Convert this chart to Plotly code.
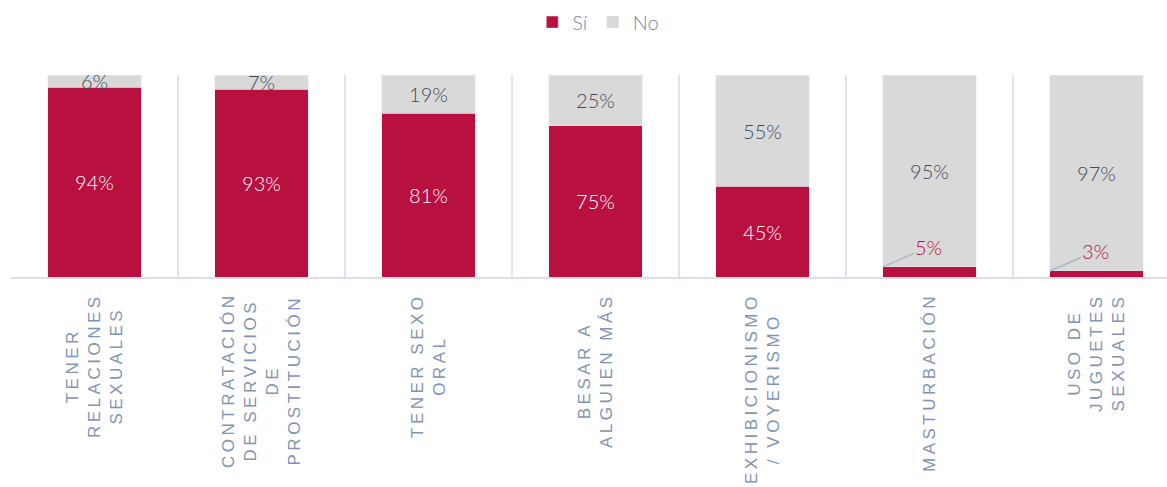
import plotly.graph_objects as go

categories = [
    "TENER<br>RELACIONES<br>SEXUALES",
    "CONTRATACIÓN<br>DE SERVICIOS<br>DE<br>PROSTITUCIÓN",
    "TENER SEXO<br>ORAL",
    "BESAR A<br>ALGUIEN MÁS",
    "EXHIBICIONISMO<br>/ VOYERISMO",
    "MASTURBACIÓN",
    "USO DE<br>JUGUETES<br>SEXUALES",
]
si_values = [94, 93, 81, 75, 45, 5, 3]
no_values = [6, 7, 19, 25, 55, 95, 97]
series_names = ["Sí", "No"]

RED = "#b8103f"
GREY = "#d9d9d9"
LABEL = "#7f94b6"
DARK = "#414b5a"
BAR_W = 0.557
SMALL = 10

idx = list(range(len(categories)))

fig = go.Figure()
fig.add_trace(go.Bar(
    x=idx, y=si_values, name=series_names[0], marker_color=RED, width=BAR_W,
    text=[f"{v}%" if v >= SMALL else "" for v in si_values],
    textposition="inside", insidetextanchor="middle", textangle=0,
    constraintext="none",
    textfont=dict(family="Lato", size=20, color="white", weight=300),
    hoverinfo="skip",
))
fig.add_trace(go.Bar(
    x=idx, y=no_values, name=series_names[1], marker_color=GREY, width=BAR_W,
    text=[f"{v}%" for v in no_values],
    textposition="inside", insidetextanchor="middle", textangle=0,
    constraintext="none",
    textfont=dict(family="Lato", size=20, color=DARK, weight=300),
    hoverinfo="skip",
))

annotations = []
for i, c in enumerate(categories):
    annotations.append(dict(
        x=i, y=0, xref="x", yref="paper", text=c, showarrow=False,
        textangle=-90, align="center", xanchor="center", yanchor="top",
        yshift=-14, font=dict(family="Liberation Sans", size=17, color=LABEL),
    ))
for i, v in enumerate(si_values):
    if v < SMALL:
        annotations.append(dict(
            x=i - BAR_W / 2, y=v, xref="x", yref="y", text=f"{v}%",
            showarrow=True, arrowhead=0, arrowwidth=1.5, arrowcolor="#aab8cc",
            ax=46, ay=-20, standoff=0,
            font=dict(family="Lato", size=20, color=RED, weight=300),
        ))

fig.update_layout(
    barmode="stack",
    width=1167, height=487,
    margin=dict(l=11, r=0, t=75, b=210),
    paper_bgcolor="white", plot_bgcolor="white",
    showlegend=True,
    legend=dict(orientation="h", x=0.508, xanchor="center", y=1.262, yanchor="middle",
                font=dict(family="Lato", size=20, color="#7086aa", weight=300),
                itemwidth=30, traceorder="normal"),
    annotations=annotations,
    xaxis=dict(type="category", range=[-0.5, -0.5 + 1156 / 167], tickson="boundaries",
               showgrid=True, gridcolor="#dfe5ee", gridwidth=2,
               showline=True, linecolor="#d8dfea", linewidth=2,
               showticklabels=False, ticks="", zeroline=False, fixedrange=True),
    yaxis=dict(range=[0, 100], showgrid=False, showticklabels=False, zeroline=False,
               ticks="", fixedrange=True),
)

post = """
document.body.style.margin='0';
document.documentElement.style.overflow='hidden';
var s=document.createElement('style');
s.textContent='text.annotation-text[style*="Liberation Sans"]{letter-spacing:3.5px}';
document.head.appendChild(s);
var gd=document.getElementById('{plot_id}');
var upd={};
gd.layout.annotations.forEach(function(a,i){
  if(a.font && a.font.family==='Liberation Sans'){ upd['annotations['+i+'].font.family']='Liberation Sans, Arial'; }
});
return Plotly.relayout(gd, upd);
"""

fig.write_html("out.html", post_script=post, config={"displayModeBar": False})
